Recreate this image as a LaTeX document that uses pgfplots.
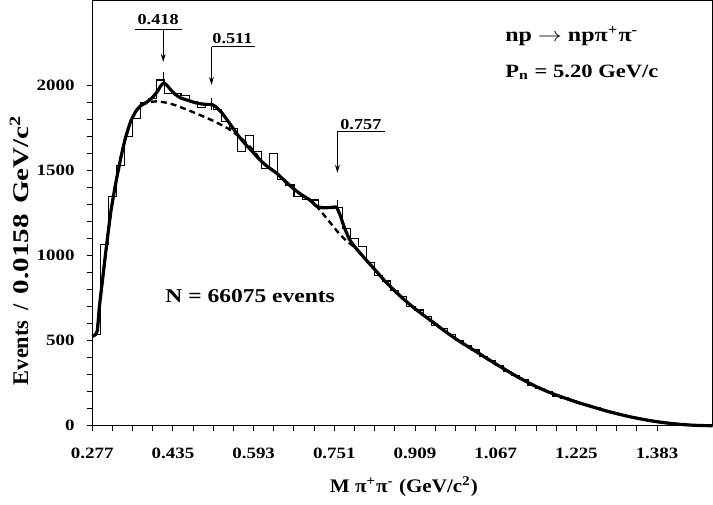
\documentclass[border=0pt]{standalone}
\usepackage{pgfplots}
\pgfplotsset{compat=1.18}
\usepackage{fontspec}
\setmainfont{Liberation Serif}
\usepackage{graphicx}
\usetikzlibrary{arrows.meta}
\newcommand{\W}[1]{\scalebox{1.2}[1]{#1}}
\newcommand{\V}[1]{\scalebox{1.3}[1]{#1}}
\begin{document}
\begin{tikzpicture}
\begin{axis}[
  scale only axis,
  width=310.5pt, height=213pt,
  xmin=0.277, xmax=1.4925,
  ymin=0, ymax=2500,
  clip=false,
  axis line style={line width=0.6pt},
  xtick={0.277,0.435,0.593,0.751,0.909,1.067,1.225,1.383},
  xticklabels={\W{0.277},\W{0.435},\W{0.593},\W{0.751},\W{0.909},\W{1.067},\W{1.225},\W{1.383}},
  minor x tick num=3,
  ytick={0,500,1000,1500,2000},
  yticklabels={\W{0},\W{500},\W{1000},\W{1500},\W{2000}},
  minor y tick num=4,
  tick align=outside,
  xtick pos=left, ytick pos=left,
  major tick length=2.8pt, minor tick length=2.8pt,
  every tick/.style={line width=0.5pt, black},
  tick label style={font=\bfseries\fontsize{7.9}{9}\selectfont},
  xticklabel style={yshift=-5pt},
  yticklabel style={xshift=-2.5pt},
  xlabel={\scalebox{1.1}[1]{M π\textsuperscript{+}π\textsuperscript{-} (GeV/c\textsuperscript{2})}},
  ylabel={Events\hspace{0.45em}/\hspace{0.45em}\V{0.0158}\hspace{0.45em}\V{GeV/c\textsuperscript{2}}},
  xlabel style={font=\bfseries\fontsize{9.6}{11}\selectfont, at={(axis description cs:0.502,-0.143)}, anchor=center},
  ylabel style={font=\bfseries\fontsize{11.2}{13}\selectfont, at={(axis description cs:-0.1035,0.413)}, anchor=base},
]
\coordinate (SW) at (rel axis cs:0,0);
\coordinate (NE) at (rel axis cs:1,1);

% histogram (left bin edges, bin width 0.0158)
\addplot[const plot, line width=0.55pt, black] coordinates {
(0.2770,535)(0.2928,1062)(0.3086,1346)(0.3244,1530)(0.3402,1700)(0.3560,1805)(0.3718,1897)(0.3876,1921)(0.4034,2030)(0.4192,1950)(0.4350,1950)(0.4508,1940)(0.4666,1903)(0.4824,1870)(0.4982,1878)(0.5140,1858)(0.5298,1786)(0.5456,1747)(0.5614,1610)(0.5772,1702)(0.5930,1610)(0.6088,1512)(0.6246,1600)(0.6404,1444)(0.6562,1414)(0.6720,1346)(0.6878,1330)(0.7036,1326)(0.7194,1280)(0.7352,1279)(0.7510,1283)(0.7668,1160)(0.7826,1100)(0.7984,1052)(0.8142,960)(0.8300,880)(0.8458,850)(0.8616,795)(0.8774,760)(0.8932,700)(0.9090,680)(0.9248,640)(0.9406,590)(0.9564,570)(0.9722,535)(0.9880,500)(1.0038,470)(1.0196,445)(1.0354,405)(1.0512,385)(1.0670,355)(1.0828,318)(1.0986,295)(1.1144,270)(1.1302,235)(1.1460,220)(1.1618,200)(1.1776,175)(1.1934,163)(1.2092,150)(1.2250,133)(1.2408,118)(1.2566,105)(1.2724,91)(1.2882,80)(1.3040,66)(1.3198,57)(1.3356,46)(1.3514,36)(1.3672,29)(1.3830,22)(1.3988,16)(1.4146,10)(1.4304,7)(1.4462,4)(1.4620,2)(1.4778,1)(1.4925,1)
};

% background (dashed)
\addplot[smooth, tension=0.3, line width=1.2pt, black, dash pattern=on 3pt off 2pt] coordinates {
(0.2772,525)(0.2830,535)(0.2870,560)(0.2910,700)(0.2980,880)(0.3050,1060)(0.3140,1270)(0.3240,1440)(0.3330,1575)(0.3420,1690)(0.3520,1785)(0.3620,1845)(0.3720,1878)(0.3850,1897)(0.3950,1903)(0.4050,1905)(0.4200,1898)(0.4380,1884)(0.4640,1854)(0.4900,1822)(0.5170,1786)(0.5430,1745)(0.5690,1688)(0.5950,1610)(0.6050,1562)(0.6200,1522)(0.6380,1483)(0.6550,1435)(0.6700,1395)(0.6850,1360)(0.7030,1326)(0.7160,1290)(0.7300,1240)(0.7450,1185)(0.7600,1130)(0.7750,1085)(0.7900,1050)(0.8100,985)(0.8300,918)(0.8500,850)(0.8700,790)(0.8900,735)(0.9100,685)(0.9300,640)(0.9500,595)(0.9700,550)(0.9900,508)(1.0100,470)(1.0300,433)(1.0500,395)(1.0700,358)(1.0900,322)(1.1100,287)(1.1300,255)(1.1500,225)(1.1700,199)(1.1900,176)(1.2100,155)(1.2300,135)(1.2500,117)(1.2700,99)(1.2900,82)(1.3100,67)(1.3300,53)(1.3500,41)(1.3700,30)(1.3900,21)(1.4100,14)(1.4300,8)(1.4500,4)(1.4700,1.5)(1.4920,0.5)
};

% full fit (solid)
\addplot[smooth, tension=0.3, line width=1.6pt, black] coordinates {
(0.2772,525)(0.2830,535)(0.2870,560)(0.2910,700)(0.2980,880)(0.3050,1060)(0.3140,1270)(0.3240,1440)(0.3330,1575)(0.3420,1690)(0.3520,1785)(0.3620,1845)(0.3720,1880)(0.3850,1903)(0.3950,1928)(0.4050,1965)(0.4110,1995)(0.4170,2012)(0.4230,2000)(0.4300,1975)(0.4400,1945)(0.4500,1925)(0.4650,1910)(0.4800,1896)(0.4950,1888)(0.5050,1887)(0.5120,1886)(0.5200,1870)(0.5300,1840)(0.5450,1780)(0.5600,1715)(0.5750,1660)(0.5900,1612)(0.6050,1562)(0.6200,1522)(0.6380,1483)(0.6550,1435)(0.6700,1395)(0.6850,1360)(0.7030,1326)(0.7160,1290)(0.7280,1280)(0.7450,1282)(0.7550,1284)(0.7620,1240)(0.7700,1170)(0.7800,1098)(0.7900,1055)(0.8100,985)(0.8300,918)(0.8500,850)(0.8700,790)(0.8900,735)(0.9100,685)(0.9300,640)(0.9500,595)(0.9700,550)(0.9900,508)(1.0100,470)(1.0300,433)(1.0500,395)(1.0700,358)(1.0900,322)(1.1100,287)(1.1300,255)(1.1500,225)(1.1700,199)(1.1900,176)(1.2100,155)(1.2300,135)(1.2500,117)(1.2700,99)(1.2900,82)(1.3100,67)(1.3300,53)(1.3500,41)(1.3700,30)(1.3900,21)(1.4100,14)(1.4300,8)(1.4500,4)(1.4700,1.5)(1.4920,0.5)
};

% peak annotations
\begin{scope}[line width=0.45pt]
\draw (axis cs:0.3606,2328) -- (axis cs:0.4526,2328);
\draw[-{Stealth[length=4pt,width=2.4pt]}] (axis cs:0.416,2328) -- (axis cs:0.416,2136);
\draw (axis cs:0.416,2000) -- (axis cs:0.416,2080);
\draw (axis cs:0.5105,2226) -- (axis cs:0.5955,2226);
\draw[-{Stealth[length=4pt,width=2.4pt]}] (axis cs:0.5105,2226) -- (axis cs:0.5105,2001);
\draw (axis cs:0.5105,1855) -- (axis cs:0.5105,1923);
\draw (axis cs:0.757,1727) -- (axis cs:0.850,1727);
\draw[-{Stealth[length=4pt,width=2.4pt]}] (axis cs:0.757,1727) -- (axis cs:0.757,1485);
\draw (axis cs:0.757,1248) -- (axis cs:0.757,1326);
\end{scope}
\begin{scope}[every node/.style={font=\bfseries\fontsize{7.6}{9}\selectfont, inner sep=0pt, anchor=center}]
\node at (axis cs:0.406,2388) {\W{0.418}};
\node at (axis cs:0.5515,2271) {\W{0.511}};
\node at (axis cs:0.803,1769) {\W{0.757}};
\end{scope}
\node[anchor=west, inner sep=0pt, font=\bfseries\fontsize{10}{12}\selectfont] at (axis cs:1.085,2289) {\W{np $\rightarrow$ npπ\textsuperscript{+}π\textsuperscript{-}}};
\node[anchor=west, inner sep=0pt, font=\bfseries\fontsize{9.4}{11}\selectfont] at (axis cs:1.085,2075) {\W{P\textsubscript{n} = 5.20 GeV/c}};
\node[anchor=west, inner sep=0pt, font=\bfseries\fontsize{9.8}{12}\selectfont] at (axis cs:0.4195,763) {\W{N = 66075 events}};
\end{axis}
\pgfresetboundingbox
\path[use as bounding box] ([xshift=-46.15pt,yshift=-39.5pt]SW) rectangle (NE);
\end{tikzpicture}
\end{document}
